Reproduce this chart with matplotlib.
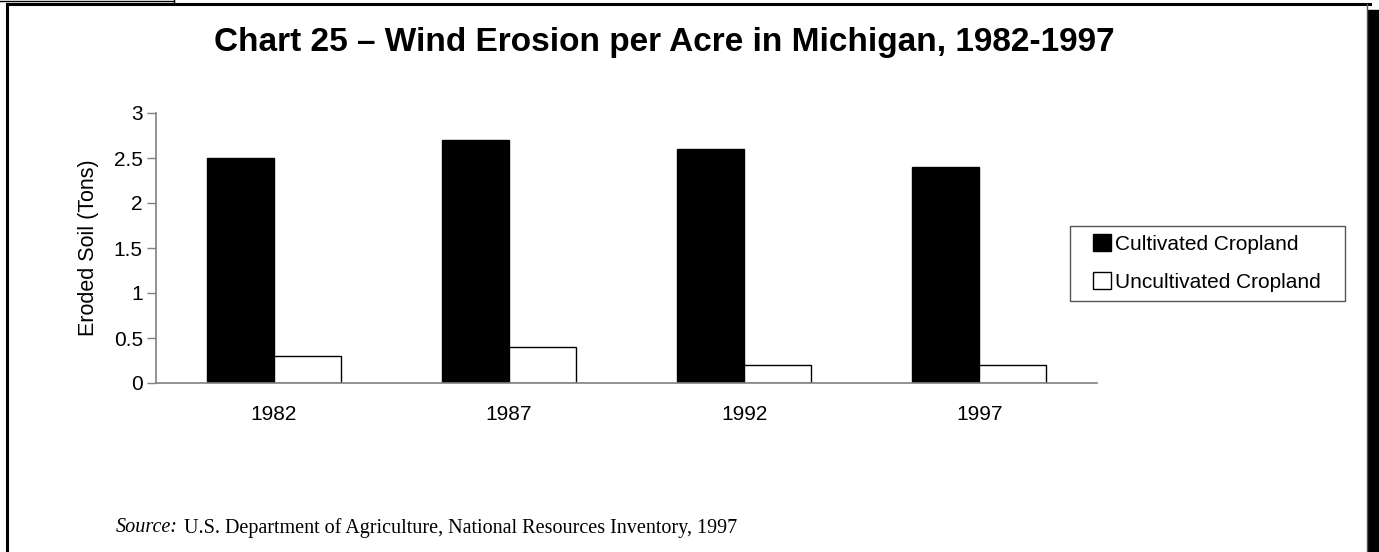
import matplotlib
matplotlib.use("Agg")
import matplotlib.pyplot as plt
import numpy as np
from matplotlib.patches import Rectangle
from matplotlib.lines import Line2D

years = ["1982", "1987", "1992", "1997"]
cultivated = [2.5, 2.7, 2.6, 2.4]
uncultivated = [0.3, 0.4, 0.2, 0.2]
yticks = [0, 0.5, 1, 1.5, 2, 2.5, 3]
ytick_labels = ["0", "0.5", "1", "1.5", "2", "2.5", "3"]

plt.rcParams['font.family'] = ['Liberation Sans', 'DejaVu Sans']

W, H = 1379, 552
fig = plt.figure(figsize=(W / 100, H / 100), dpi=100)

def fx(px):
    return px / W

def fy(py):
    return 1 - py / H

# Frame
fig.add_artist(Line2D([fx(7), fx(1370)], [fy(4), fy(4)], color="black", lw=2.2, transform=fig.transFigure))
fig.add_artist(Line2D([fx(7), fx(7)], [fy(4), fy(552)], color="black", lw=2.2, transform=fig.transFigure))
fig.add_artist(Line2D([fx(1367), fx(1367)], [fy(4), fy(552)], color="#555555", lw=1.0, transform=fig.transFigure))
fig.add_artist(Rectangle((fx(1368), 0), fx(11), fy(10), color="black", transform=fig.transFigure))
# small mark at top-left
fig.add_artist(Line2D([0, fx(174)], [fy(0.5), fy(0.5)], color="black", lw=1.0, transform=fig.transFigure))
fig.add_artist(Line2D([fx(174), fx(174)], [fy(0), fy(4)], color="black", lw=1.0, transform=fig.transFigure))

ax = fig.add_axes([fx(156), fy(383), fx(1097 - 156), fy(113) - fy(383)])
x = np.arange(len(years))
bw = 0.285
ax.bar(x - bw / 2, cultivated, bw, color="black", edgecolor="black", linewidth=1, label="Cultivated Cropland")
ax.bar(x + bw / 2, uncultivated, bw, color="white", edgecolor="black", linewidth=1, label="Uncultivated Cropland")

ax.set_xlim(-0.5, len(years) - 0.5)
ax.set_ylim(0, 3)
ax.set_yticks(yticks)
ax.set_yticklabels(ytick_labels, fontsize=15)
ax.set_xticks(x)
ax.set_xticklabels(years, fontsize=15)
ax.tick_params(axis="x", length=0, pad=16)
ax.tick_params(axis="y", length=6.5, width=1, color="#808080", pad=3)
for s in ["top", "right"]:
    ax.spines[s].set_visible(False)
for s in ["left", "bottom"]:
    ax.spines[s].set_color("#808080")
    ax.spines[s].set_linewidth(1.2)
ax.set_ylabel("Eroded Soil (Tons)", fontsize=15.5)
ax.yaxis.set_label_coords((99 - 156) / 941, 0.5)

# Legend (frame drawn separately for exact padding)
fig.add_artist(Rectangle((fx(1070), fy(301)), fx(1345 - 1070), fy(226) - fy(301),
                         facecolor="white", edgecolor="#555555", linewidth=1.0,
                         transform=fig.transFigure, zorder=2))
leg = fig.legend(loc="upper left", bbox_to_anchor=(fx(1093), fy(234)), fontsize=15,
                 frameon=False, handlelength=0.85, handleheight=0.85,
                 handletextpad=0.2, borderpad=0, labelspacing=0.89, borderaxespad=0)
leg.set_zorder(3)

fig.text(fx(664), fy(43), "Chart 25 \u2013 Wind Erosion per Acre in Michigan, 1982-1997",
         ha="center", va="center", fontsize=24, fontweight="bold")

fig.text(fx(116), fy(528), "Source:", ha="left", va="center", fontsize=14.5,
         family="Liberation Serif", style="italic")
fig.text(fx(184), fy(528), "U.S. Department of Agriculture, National Resources Inventory, 1997",
         ha="left", va="center", fontsize=14.5, family="Liberation Serif")

fig.savefig("out.png", dpi=100)
